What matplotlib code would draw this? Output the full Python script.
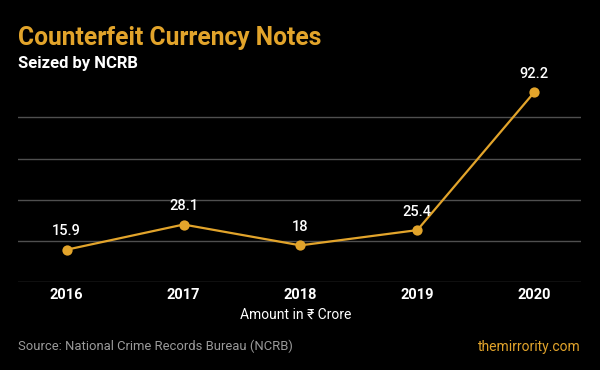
import matplotlib
matplotlib.use("Agg")
import matplotlib.pyplot as plt

years = ["2016", "2017", "2018", "2019", "2020"]
amounts = [15.9, 28.1, 18, 25.4, 92.2]
value_labels = ["15.9", "28.1", "18", "25.4", "92.2"]
grid_values = [0, 20, 40, 60, 80]

ORANGE = "#E2A42B"
BG = "#000000"

plt.rcParams["font.family"] = ["Roboto", "DejaVu Sans"]

fig = plt.figure(figsize=(6, 3.7), dpi=100, facecolor=BG)
ax = fig.add_axes([0.0295, 0.2365, 0.9388, 0.5576], facecolor=BG)

x = list(range(len(years)))
ax.plot(x, amounts, color=ORANGE, lw=1.6, marker="o", ms=7.4,
        markeredgewidth=0, zorder=3)

for xi, v, lab in zip(x, amounts, value_labels):
    ax.annotate(lab, (xi, v), xytext=(0, 13.2), textcoords="offset points",
                ha="center", va="center", color="white", fontsize=10.5,
                fontweight="medium")

ax.set_xlim(-0.419, 4.40)
ax.set_ylim(0, 100)
ax.set_yticks(grid_values)
ax.yaxis.grid(True, color="#4f4f4f", lw=1)
ax.set_axisbelow(True)
ax.tick_params(axis="y", left=False, labelleft=False)
ax.set_xticks(x)
ax.set_xticklabels(years, color="white", fontsize=10.5, fontweight="bold")
ax.tick_params(axis="x", bottom=False, pad=0.5)
for s in ax.spines.values():
    s.set_visible(False)

fig.text(0.03, 1 - 45 / 370, "Counterfeit Currency Notes",
         fontweight="bold", fontsize=17.7, color=ORANGE,
         va="baseline", ha="left")
fig.text(0.03, 1 - 68 / 370, "Seized by NCRB", fontsize=12,
         fontweight="bold", color="white", va="baseline", ha="left")
fig.text(296 / 600, 1 - 315 / 370, "Amount in \u20b9 Crore", fontsize=10,
         color="white", ha="center", va="center")
fig.text(18 / 600, 1 - 346.7 / 370, "Source: National Crime Records Bureau (NCRB)",
         fontsize=9.4, color="#9a9a9a", ha="left", va="center")
fig.text(581 / 600, 1 - 347.3 / 370, "themirrority.com", fontsize=10,
         color=ORANGE, ha="right", va="center")

fig.savefig("out.png", dpi=100, facecolor=BG)
